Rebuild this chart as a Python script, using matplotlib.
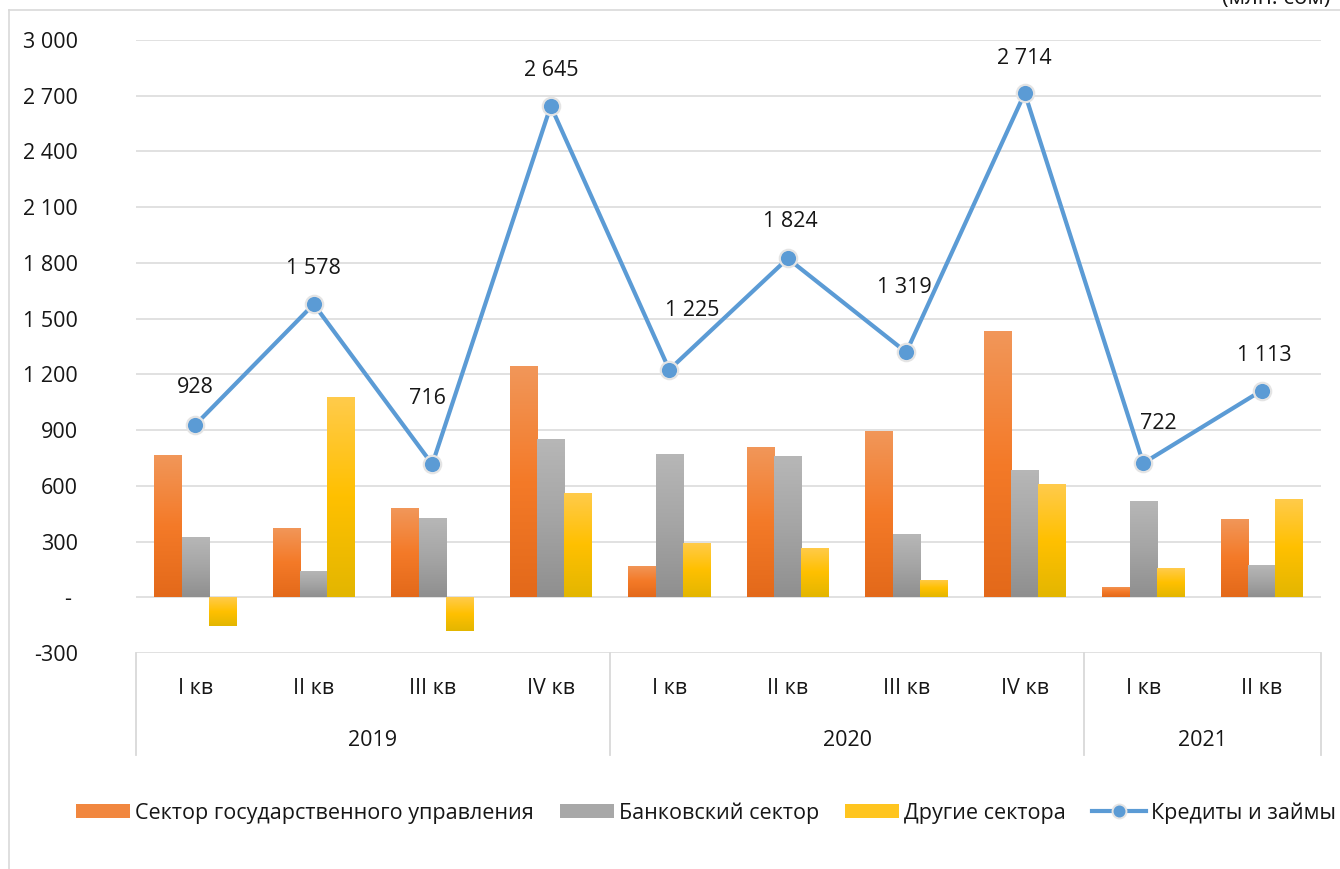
import numpy as np
import matplotlib
matplotlib.use("Agg")
import matplotlib.pyplot as plt
from matplotlib.colors import LinearSegmentedColormap
from matplotlib.lines import Line2D
from matplotlib.patches import Patch

plt.rcParams['font.family'] = ['Open Sans', 'DejaVu Sans']

# data
quarters = ["I кв", "II кв", "III кв", "IV кв",
            "I кв", "II кв", "III кв", "IV кв",
            "I кв", "II кв"]
years = ["2019", "2020", "2021"]
year_sizes = [4, 4, 2]

gov_sector = [765, 372, 479, 1244, 167, 808, 894, 1432, 54, 420]
bank_sector = [323, 142, 425, 851, 770, 759, 339, 684, 517, 172]
other_sectors = [-154, 1077, -181, 560, 291, 264, 92, 608, 156, 528]
loans = [928, 1578, 716, 2645, 1225, 1824, 1319, 2714, 722, 1113]

series_names = ["Сектор государственного управления", "Банковский сектор",
                "Другие сектора", "Кредиты и займы"]
unit_note = "(млн. сом)"

# label nudges in pixels (dx, dy) - some labels were moved by hand in the original
label_offsets = [(0, 37), (0, 36), (-5, 66), (0, 35), (23, 59),
                 (3, 37), (-2, 65), (0, 35), (15, 40), (3, 35)]

grad_orange = LinearSegmentedColormap.from_list("o", ["#F1975A", "#F47A28", "#E3691A"])
grad_gray = LinearSegmentedColormap.from_list("g", ["#B7B7B7", "#A5A5A5", "#8F8F8F"])
grad_yellow = LinearSegmentedColormap.from_list("y", ["#FFCB4C", "#FFC000", "#E3B600"])
line_color = "#5B9BD5"
grid_color = "#D9D9D9"
txt_color = "#161616"

fig = plt.figure(figsize=(13.4, 8.69), dpi=100)
ax = fig.add_axes([136 / 1340, 1 - 653 / 869, (1321 - 136) / 1340, (653 - 40) / 869])

x = np.arange(len(quarters))
w = 0.23


def gradient_bars(xpos, vals, cmap):
    bars = ax.bar(xpos, vals, w, color="none", edgecolor="none", zorder=2)
    grad = np.linspace(0, 1, 256).reshape(-1, 1)
    for b in bars:
        x0, y0 = b.get_x(), b.get_y()
        x1, y1 = x0 + b.get_width(), y0 + b.get_height()
        top, bot = max(y0, y1), min(y0, y1)
        im = ax.imshow(grad, cmap=cmap, aspect="auto", extent=[x0, x1, bot, top],
                       origin="upper", zorder=2, interpolation="bilinear")
        im.set_clip_path(b)


gradient_bars(x - w, gov_sector, grad_orange)
gradient_bars(x, bank_sector, grad_gray)
gradient_bars(x + w, other_sectors, grad_yellow)

ax.plot(x, loans, color=line_color, lw=3.0, marker="o", ms=12.5,
        mfc=line_color, mec="#E4E4E4", mew=1.6, zorder=4)

for xi, v, (dx, dy) in zip(x, loans, label_offsets):
    ax.annotate(f"{v:,}".replace(",", " "), (xi, v), xytext=(dx, dy),
                textcoords="offset pixels", ha="center", va="center",
                fontsize=15.5, color=txt_color, zorder=5)

ax.set_xlim(-0.5, len(quarters) - 0.5)
ax.set_ylim(-300, 3000)
ticks = np.arange(-300, 3001, 300)
ax.set_yticks(ticks)
ax.set_yticklabels(["- " if t == 0 else f"{t:,}".replace(",", " ") for t in ticks],
                   fontsize=15.5, color=txt_color)
ax.tick_params(axis="y", length=0, pad=42)
ax.set_xticks([])
ax.grid(axis="y", color=grid_color, lw=1.1, zorder=0)
ax.set_axisbelow(True)
for s in ax.spines.values():
    s.set_visible(False)

# multi-level category axis
trans = ax.get_xaxis_transform()
for xi, q in zip(x, quarters):
    ax.text(xi, -35 / 613, q, transform=trans, ha="center", va="center",
            fontsize=15.5, color=txt_color)
start = 0
bounds = [-0.5]
for yr, n in zip(years, year_sizes):
    ax.text(start + (n - 1) / 2, -87 / 613, yr, transform=trans, ha="center",
            va="center", fontsize=15.5, color=txt_color)
    start += n
    bounds.append(start - 0.5)
for b in bounds:
    ax.plot([b, b], [0, -102 / 613], transform=trans, color=grid_color,
            lw=1.3, clip_on=False)

# chart frame and unit note (the note is cut by the top edge in the original)
fig.add_artist(Line2D([9 / 1340, 9 / 1340], [0, 1 - 10 / 869], color="#D9D9D9", lw=1.2))
fig.add_artist(Line2D([9 / 1340, 1], [1 - 10 / 869, 1 - 10 / 869], color="#D9D9D9", lw=1.2))
fig.text(1330 / 1340, 1 - 4 / 869, unit_note, ha="right", va="baseline",
         fontsize=16, color=txt_color)

handles = [Patch(facecolor="#F1873F", edgecolor="none"),
           Patch(facecolor="#A8A8A8", edgecolor="none"),
           Patch(facecolor="#FFC51F", edgecolor="none"),
           Line2D([], [], color=line_color, lw=3.0, marker="o", ms=10,
                  mfc=line_color, mec="#E4E4E4", mew=1.4)]
fig.legend(handles, series_names, loc="center", bbox_to_anchor=(706 / 1340, 1 - 813 / 869),
           ncol=4, frameon=False, fontsize=15.5, handlelength=2.5, handleheight=0.65,
           handletextpad=0.25, columnspacing=1.2, labelcolor=txt_color)

fig.savefig("out.png", dpi=100)
